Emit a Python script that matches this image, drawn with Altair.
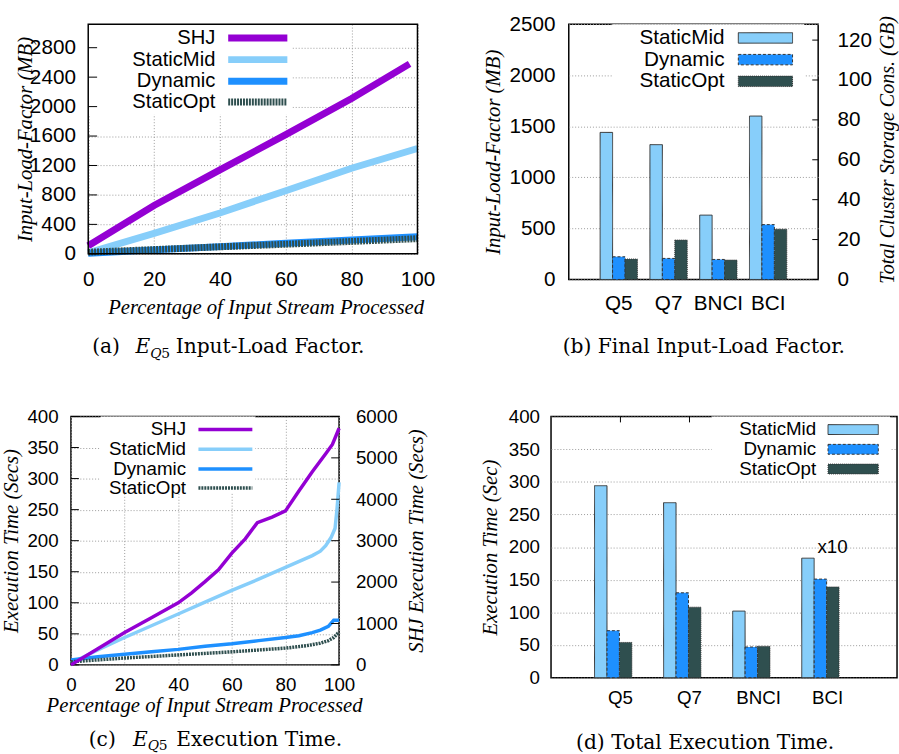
import altair as alt
import pandas as pd

# ---------------- data ----------------
SER4 = ["SHJ", "StaticMid", "Dynamic", "StaticOpt"]
SER3 = ["StaticMid", "Dynamic", "StaticOpt"]
CATS = ["Q5", "Q7", "BNCI", "BCI"]
COL = {"SHJ": "#9400D3", "StaticMid": "#87CEFA", "Dynamic": "#1E90FF", "StaticOpt": "#2F4F4F"}

# (a) input-load factor over time (MB)
a_shj_pct = [0, 20, 40, 60, 80, 97.6]
a_shj = [110, 657, 1140, 1619, 2111, 2580]
a_pct = [0, 20, 40, 60, 80, 100]
a_mid = [15, 277, 555, 858, 1163, 1431]
a_dyn = [8, 53, 98, 143, 188, 232]
a_opt = [22, 58, 95, 130, 168, 206]
a_yticks = [0, 400, 800, 1200, 1600, 2000, 2400, 2800]
a_xticks = [0, 20, 40, 60, 80, 100]

# (b) final input-load factor (MB)
b_mid = [1440, 1320, 630, 1600]
b_dyn = [222, 206, 196, 537]
b_opt = [200, 386, 190, 492]
b_yticks = [0, 500, 1000, 1500, 2000, 2500]
b_gbticks = [0, 20, 40, 60, 80, 100, 120]

# (c) execution time (secs)
c_shj_pct = [0, 10, 20, 30, 40, 45, 50, 55, 60, 65, 69.5, 75, 80, 85, 90, 95, 97.5, 100]
c_shj = [0, 390, 780, 1140, 1500, 1740, 2010, 2295, 2700, 3045, 3435, 3570, 3720, 4200, 4665, 5100, 5325, 5715]
c_mid_pct = [0, 10, 20, 30, 40, 50, 60, 70, 80, 90, 93, 95, 97, 98.5, 99.2, 100]
c_mid = [3, 24, 44, 63, 82, 101, 120, 138, 157, 176, 183, 192, 205, 220, 250, 294]
c_dyn_pct = [0, 10, 20, 30, 40, 50, 60, 70, 80, 85, 90, 93, 96, 98, 100]
c_dyn = [8, 13, 17, 21, 25, 30, 34, 39, 44, 47, 52, 56, 62, 72, 72]
c_opt_pct = [0, 20, 40, 60, 80, 88, 93, 96, 98, 100]
c_opt = [5, 11, 16, 21, 27, 31, 35, 39, 44, 53]
c_yticks = [0, 50, 100, 150, 200, 250, 300, 350, 400]
c_rticks = [0, 1000, 2000, 3000, 4000, 5000, 6000]

# (d) total execution time (sec)
d_mid = [294, 268, 102, 183]
d_dyn = [72, 130, 47, 151]
d_opt = [54, 108, 48, 139]
d_yticks = [0, 50, 100, 150, 200, 250, 300, 350, 400]
d_note = pd.DataFrame({"cat": ["BCI"], "v": [200], "t": ["x10"]})

SANS = "Liberation Sans"
SERIF = "Liberation Serif"
CAP = "DejaVu Serif"
CAPS = 20.5
GRID = "#9a9a9a"
one = pd.DataFrame({"k": [0]})
cats_df = pd.DataFrame({"cat": CATS})


def txt(s, x, y, size, font=SANS, align="left", style="normal", baseline="middle"):
    return alt.Chart(one).mark_text(text=s, align=align, baseline=baseline, font=font,
                                    fontSize=size, fontStyle=style, color="black").encode(
        x=alt.value(x), y=alt.value(y))


def hrule(x1, x2, y, color, width, dash=None):
    kw = dict(color=color, strokeWidth=width, strokeCap="butt")
    if dash:
        kw["strokeDash"] = dash
    return alt.Chart(one).mark_rule(**kw).encode(x=alt.value(x1), x2=alt.value(x2), y=alt.value(y))


def rect(x1, x2, y1, y2, fill, stroke=None, dash=None, opacity=1, sw=1):
    kw = dict(fill=fill, fillOpacity=opacity)
    if stroke:
        kw.update(stroke=stroke, strokeWidth=sw)
    if dash:
        kw["strokeDash"] = dash
    return alt.Chart(one).mark_rect(**kw).encode(x=alt.value(x1), x2=alt.value(x2),
                                                 y=alt.value(y1), y2=alt.value(y2))


def long(pairs):
    frames = []
    for s, xs, vs in pairs:
        frames.append(pd.DataFrame({"pct": xs, "v": vs, "s": s}))
    return pd.concat(frames, ignore_index=True)


def qaxis(values, size, lpad, title=None, tx=None, ty=None, orient=None, angle=None, grid=True,
          fmt="d", offset=None, tsize=21):
    kw = dict(values=values, labelFont=SANS, labelFontSize=size, labelPadding=lpad, tickSize=0,
              domain=False, grid=grid, gridColor=GRID, gridDash=[1, 2], gridWidth=1,
              labelFlush=False, labelOverlap=False, labelColor="black", format=fmt)
    if orient:
        kw["orient"] = orient
    if offset is not None:
        kw["offset"] = offset
    if title:
        kw.update(title=title, titleFont=SERIF, titleFontStyle="italic", titleFontWeight="normal",
                  titleFontSize=tsize, titleX=tx, titleY=ty, titleAlign="center", titleColor="black")
        if angle is not None:
            kw.update(titleAngle=angle, titleBaseline="middle")
        else:
            kw.update(titleBaseline="alphabetic")
    else:
        kw["title"] = None
    return alt.Axis(**kw)


# ---------------- panel (a) ----------------
OFF = 17.5
WA, HA = 334, 233
dfa = long([("SHJ", a_shj_pct, a_shj), ("StaticMid", a_pct, a_mid),
            ("Dynamic", a_pct, a_dyn), ("StaticOpt", a_pct, a_opt)])
xa = alt.Scale(domain=[0, 100], nice=False, range=[OFF, OFF + WA])
ya = alt.Scale(domain=[0, 3120], nice=False)
ax_ax = qaxis(a_xticks, 21, 15, "Percentage of Input Stream Processed", 180 + OFF, 60.7)
ax_ay = qaxis(a_yticks, 21, 13, "Input-Load-Factor (MB)", -64, 116.5, angle=270, offset=-OFF)


def a_line(s):
    mk = dict(color=COL[s], strokeWidth=7, strokeCap="butt")
    if s == "StaticOpt":
        mk["strokeDash"] = [2, 1]
    return alt.Chart(dfa).transform_filter(alt.datum.s == s).mark_line(**mk).encode(
        x=alt.X("pct:Q", scale=xa, axis=ax_ax),
        y=alt.Y("v:Q", scale=ya, axis=ax_ay))


a_layers = [a_line("SHJ"), a_line("StaticMid"), a_line("Dynamic"), a_line("StaticOpt")]
a_layers.append(rect(OFF, OFF + 207, 0, 92, "white"))
for s, y in zip(SER4, [14, 36, 58, 79]):
    a_layers.append(txt(s, OFF + 129, y, 20.5, align="right"))
    a_layers.append(hrule(OFF + 142, OFF + 202, y, COL[s], 7, [2, 1] if s == "StaticOpt" else None))
a_layers.append(alt.Chart(pd.DataFrame({"t": a_yticks})).mark_rule(color="black").encode(
    x=alt.value(OFF), x2=alt.value(OFF + 9), y=alt.Y("t:Q", scale=ya, axis=ax_ay)))
a_layers.append(rect(OFF, OFF + WA, 0, HA, "white", stroke="black", opacity=0, sw=1.5))
a_layers += [txt("(a)", OFF + 4, 333.7, CAPS, CAP, baseline="alphabetic"),
             txt("E", OFF + 48, 333.7, CAPS, CAP, style="italic", baseline="alphabetic"),
             txt("Q", OFF + 63, 338.5, 14, CAP, style="italic", baseline="alphabetic"),
             txt("5", OFF + 74, 338.5, 14, CAP, baseline="alphabetic"),
             txt("Input-Load Factor.", OFF + 88.7, 333.7, CAPS, CAP, baseline="alphabetic")]
panel_a = alt.layer(*a_layers).properties(width=WA + OFF, height=HA,
                                          view=alt.ViewBackground(stroke="transparent"))


# ---------------- bar panels helper ----------------
def bar_df(mid, dyn, opt):
    rows = []
    for s, vals in zip(SER3, [mid, dyn, opt]):
        for c, v in zip(CATS, vals):
            rows.append({"cat": c, "s": s, "v": v})
    return pd.DataFrame(rows)


DASHES = [[1, 0], [3, 2], [1, 1]]


def cat_axis(size, lpad):
    return alt.Axis(title=None, labelAngle=0, labelFont=SANS, labelFontSize=size,
                    labelPadding=lpad, tickSize=0, domain=False, grid=False, labelColor="black")


XSC = alt.Scale(paddingInner=0.25, paddingOuter=0.63)


def bars(df, yscale, yaxis, size, lpad):
    return alt.Chart(df).mark_bar(stroke="#333333", strokeWidth=1).encode(
        x=alt.X("cat:N", sort=CATS, scale=XSC, axis=cat_axis(size, lpad)),
        xOffset=alt.XOffset("s:N", sort=SER3, scale=alt.Scale(paddingInner=0, paddingOuter=0)),
        y=alt.Y("v:Q", scale=yscale, axis=yaxis),
        fill=alt.Fill("s:N", scale=alt.Scale(domain=SER3, range=[COL[s] for s in SER3]), legend=None),
        strokeDash=alt.StrokeDash("s:N", scale=alt.Scale(domain=SER3, range=DASHES), legend=None),
    )


def top_ticks(size, lpad):
    return alt.Chart(cats_df).mark_rule(color="black").encode(
        x=alt.X("cat:N", sort=CATS, scale=XSC, axis=cat_axis(size, lpad)),
        y=alt.value(0), y2=alt.value(6))


def bar_legend(x1, x2, y1, y2, lab_r, sx1, sx2, ys, size, hh):
    out = [rect(x1, x2, y1, y2, "white")]
    for s, y, dsh in zip(SER3, ys, DASHES):
        out.append(txt(s, lab_r, y, size, align="right"))
        out.append(rect(sx1, sx2, y - hh, y + hh, COL[s], "#333333", dsh))
    return out


# ---------------- panel (b) ----------------
WB, HB = 253, 259
dfb = bar_df(b_mid, b_dyn, b_opt)
yb = alt.Scale(domain=[0, 2500], nice=False)
ax_by = qaxis(b_yticks, 21, 14, "Input-Load-Factor (MB)", -76, 129.5, angle=270)
b_inner = alt.layer(rect(100, 101, -18, -17, "white", opacity=0),
                    bars(dfb, yb, ax_by, 21, 13), top_ticks(21, 13),
                    *bar_legend(44, 239, 0, 84, 158, 172, 227, [14, 36, 58], 21, 5.3),
                    txt("(b) Final Input-Load Factor.", 137, 333.7, CAPS, CAP, align="center",
                        baseline="alphabetic"))
ax_br = qaxis(b_gbticks, 21, 19, "Total Cluster Storage Cons. (GB)", 70, 127, orient="right",
              angle=270, grid=False, tsize=20.3)
b_right = alt.Chart(pd.DataFrame({"gb": b_gbticks})).mark_rule(color="black").encode(
    x=alt.value(WB - 6), x2=alt.value(WB),
    y=alt.Y("gb:Q", scale=alt.Scale(domain=[0, 128], nice=False), axis=ax_br))
panel_b = alt.layer(b_inner, b_right).resolve_scale(y="independent").properties(width=WB, height=HB)

# ---------------- panel (c) ----------------
WC, HC = 272, 252
dfc = long([("StaticMid", c_mid_pct, c_mid), ("Dynamic", c_dyn_pct, c_dyn),
            ("StaticOpt", c_opt_pct, c_opt)])
dfc_shj = pd.DataFrame({"pct": c_shj_pct, "v": c_shj})
xc = alt.Scale(domain=[0, 100], nice=False)
yc = alt.Scale(domain=[0, 400], nice=False)
yc2 = alt.Scale(domain=[0, 6000], nice=False)
ax_cx = qaxis(a_xticks, 19, 11, "Percentage of Input Stream Processed", 135, 47)
ax_cy = qaxis(c_yticks, 19, 13, "Execution Time (Secs)", -60, 125.8, angle=270)
ax_cr = qaxis(c_rticks, 19, 16.6, "SHJ Execution Time (Secs)", 79, 125.8, orient="right",
              angle=270, grid=False)


def c_line(s):
    mk = dict(color=COL[s], strokeWidth=3.5, strokeCap="butt")
    if s == "StaticOpt":
        mk["strokeDash"] = [2, 1]
    return alt.Chart(dfc).transform_filter(alt.datum.s == s).mark_line(**mk).encode(
        x=alt.X("pct:Q", scale=xc, axis=ax_cx),
        y=alt.Y("v:Q", scale=yc, axis=ax_cy))


c_left = alt.layer(
    c_line("StaticMid"), c_line("Dynamic"), c_line("StaticOpt"),
    alt.Chart(pd.DataFrame({"t": c_yticks})).mark_rule(color="black").encode(
        x=alt.value(0), x2=alt.value(8), y=alt.Y("t:Q", scale=yc, axis=ax_cy)))
c_rightl = alt.layer(
    alt.Chart(dfc_shj).mark_line(color=COL["SHJ"], strokeWidth=3.5).encode(
        x=alt.X("pct:Q", scale=xc, axis=ax_cx), y=alt.Y("v:Q", scale=yc2, axis=ax_cr)),
    alt.Chart(pd.DataFrame({"t": c_rticks})).mark_rule(color="black").encode(
        x=alt.value(WC - 8), x2=alt.value(WC), y=alt.Y("t:Q", scale=yc2, axis=ax_cr)))
c_extra = [rect(30, 187, 0, 78, "white")]
for s, y in zip(SER4, [13.3, 33.3, 53.3, 72.6]):
    c_extra.append(txt(s, 116.7, y, 19, align="right"))
    c_extra.append(hrule(129.3, 184, y, COL[s], 3.5, [2, 1] if s == "StaticOpt" else None))
c_extra += [txt("(c)", 18, 334, CAPS, CAP, baseline="alphabetic"),
            txt("E", 63, 334, CAPS, CAP, style="italic", baseline="alphabetic"),
            txt("Q", 78, 338.8, 14, CAP, style="italic", baseline="alphabetic"),
            txt("5", 89, 338.8, 14, CAP, baseline="alphabetic"),
            txt("Execution Time.", 106.7, 334, CAPS, CAP, baseline="alphabetic")]
panel_c = alt.layer(c_left, c_rightl, *c_extra).resolve_scale(y="independent").properties(
    width=WC, height=HC)

# ---------------- panel (d) ----------------
WD, HD = 351, 265
dfd = bar_df(d_mid, d_dyn, d_opt)
yd = alt.Scale(domain=[0, 400], nice=False)
ax_dy = qaxis(d_yticks, 19, 11.7, "Execution Time (Sec)", -61.7, 132.5, angle=270)
d_layers = [bars(dfd, yd, ax_dy, 19, 11), top_ticks(19, 11)]
d_layers.append(alt.Chart(d_note).mark_text(font=SANS, fontSize=19, dx=5, color="black",
                                            baseline="middle").encode(
    x=alt.X("cat:N", sort=CATS, scale=XSC, axis=cat_axis(19, 11)),
    y=alt.Y("v:Q", scale=yd, axis=ax_dy), text="t:N"))
d_layers += bar_legend(163, 344, 0, 64, 269, 281, 332, [13.3, 33.3, 53.3], 19, 5)
d_layers.append(txt("(d) Total Execution Time.", 156.3, 337, CAPS, CAP, align="center",
                    baseline="alphabetic"))
panel_d = alt.layer(*d_layers).properties(width=WD, height=HD)

row1 = alt.hconcat(panel_a, panel_b, spacing=47)
row2 = alt.hconcat(panel_c, panel_d, spacing=51)
chart = alt.vconcat(row1, row2, spacing=45).properties(
    padding={"left": 0, "top": 0, "right": 0, "bottom": 0}, background="white"
).configure_view(stroke="black", strokeWidth=1.5)

chart.save("out.html", embed_options={"renderer": "svg", "actions": False})
